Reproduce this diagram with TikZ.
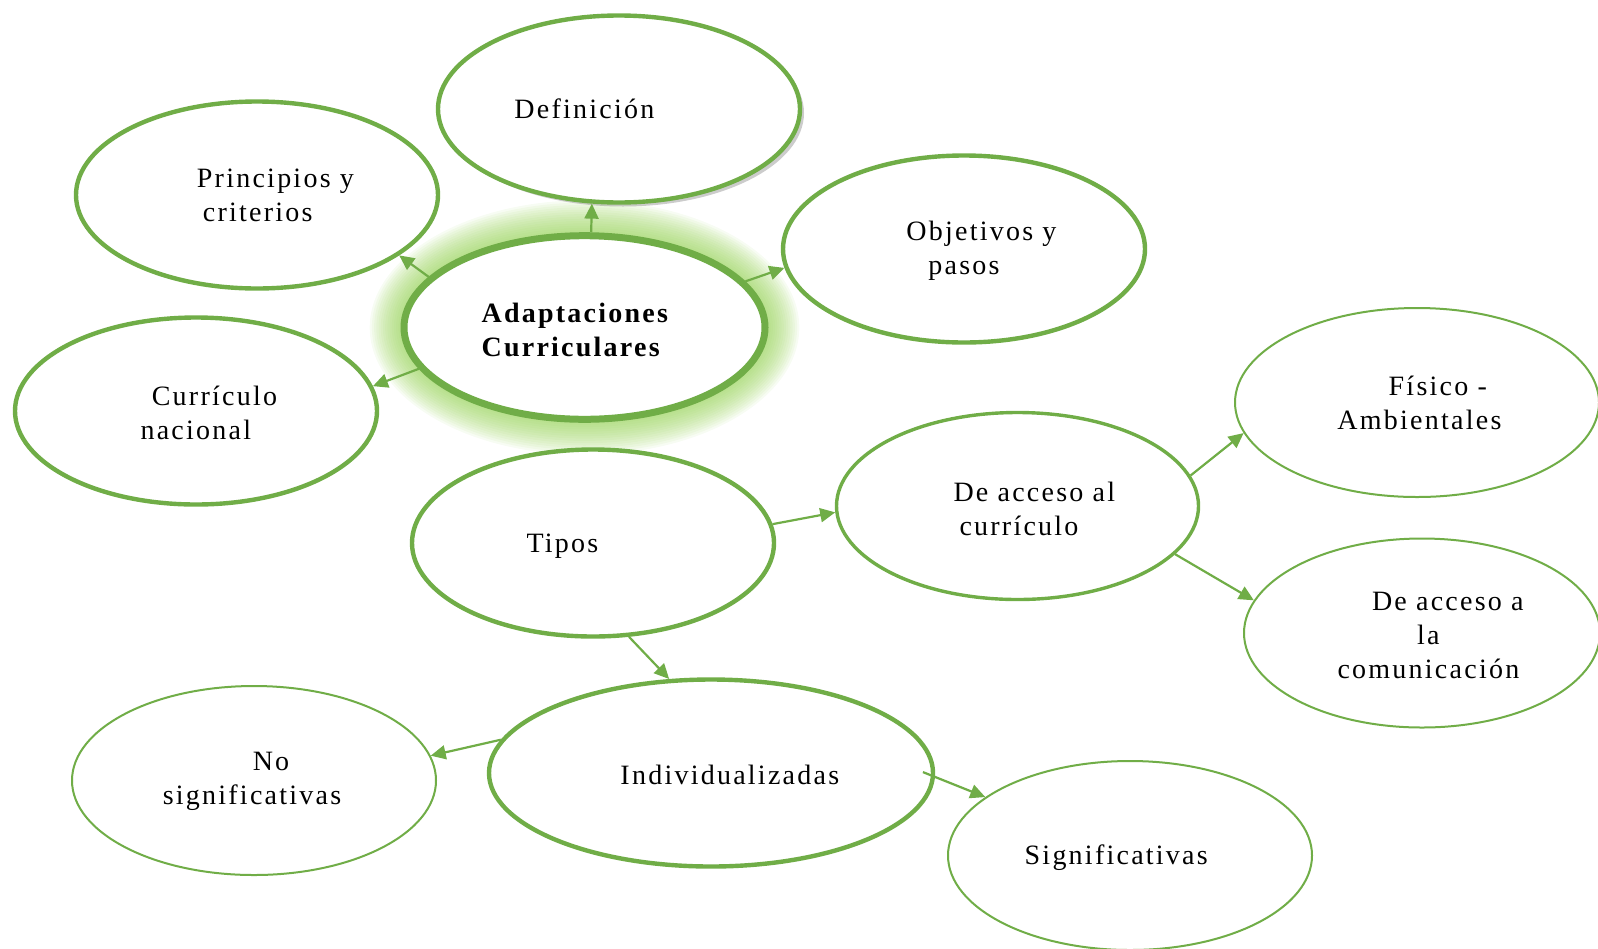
\documentclass[tikz,border=0pt]{standalone}
\usepackage{fontspec}
\setmainfont{Liberation Serif}[LetterSpace=8]
\usetikzlibrary{shapes.geometric,arrows.meta,shadows}
\definecolor{leaf}{RGB}{112,173,71}
\definecolor{glow}{RGB}{146,208,80}

\tikzset{x=0.5pt, y=-0.5pt, node font=\fontsize{14}{17}\selectfont,
  bub/.style={ellipse, draw=leaf, fill=white, inner sep=0pt,
    minimum width=181pt, minimum height=93.5pt},
  thick bub/.style={bub, line width=2.2pt},
  mid bub/.style={bub, line width=1.7pt},
  thin bub/.style={bub, line width=1pt, minimum width=182pt, minimum height=94.5pt},
  txt/.style={align=center},
  pil/.style={draw=leaf, line width=1.1pt, -{Triangle[length=7.5pt,width=7pt]}}}

\begin{document}
\begin{tikzpicture}
  \useasboundingbox (0,0) rectangle (1598,948);
  % soft glow round the centre
  \foreach \g in {1,...,14}
    \fill [glow, opacity=0.07] (584.5,327.5)
      ellipse [x radius=92pt+\g*1.1pt, y radius=47.5pt+\g*1.15pt];

  \node [bub, line width=3.5pt, minimum width=180.5pt, minimum height=91.8pt,
    label={[align=left, xshift=-4.3pt, yshift=-1.3pt]center:\textbf{Adaptaciones}\\\textbf{Curriculares}}]
    (adapt) at (584.5,327.5) {};
  \node [thick bub, drop shadow={shadow xshift=2pt, shadow yshift=-2pt, opacity=0.4},
    label={[txt, xshift=-17.3pt]center:Definición}] (def) at (619,109) {};
  \node [thick bub, label={[align=left, xshift=9.2pt]center:Principios y\\\hspace*{3pt}criterios}] (princ) at (257,195) {};
  \node [thick bub, label={[align=left, xshift=8.7pt, yshift=-1pt]center:Objetivos y\\\hspace*{11pt}pasos}] (obj) at (964,249) {};
  \node [thick bub, label={[align=left, xshift=6.4pt, yshift=-0.7pt]center:\hspace*{5.6pt}Currículo\\nacional}] (curr) at (196,411) {};
  \node [thick bub, label={[txt, xshift=-15.3pt, yshift=-1.5pt]center:Tipos}] (tipos) at (593,543) {};
  \node [mid bub, label={[align=left, xshift=8.4pt, yshift=-1.3pt]center:De acceso al\\\hspace*{3pt}currículo}] (acceso) at (1017.5,506) {};
  \node [thin bub, label={[txt, xshift=1.2pt]center:\hspace*{18.4pt}Físico -\\Ambientales}] (fisico) at (1417,402.5) {};
  \node [thin bub, minimum width=178pt, label={[txt, xshift=3.2pt, yshift=-1pt]center:\hspace*{19.4pt}De acceso a\\la\\comunicación}] (comun) at (1422,633) {};
  \node [thick bub, minimum width=222pt, label={[txt, xshift=9.4pt, yshift=-1pt]center:Individualizadas}] (indiv) at (711,773) {};
  \node [thin bub, label={[txt, xshift=-1pt, yshift=-0.5pt]center:\hspace*{19pt}No\\significativas}] (nosig) at (254,780.5) {};
  \node [thin bub, label={[txt, xshift=-6.9pt, yshift=-1pt]center:Significativas}] (sig) at (1130,855.5) {};

  \draw [pil] (adapt.86) -- (def.-106);
  \draw [pil] (adapt.162) -- (princ.-23);
  \draw [pil] (adapt.16) -- (obj.186);
  \draw [pil] (adapt.194) -- (curr.8);
  \draw [pil] (tipos.6) -- (acceso.182);
  \draw [pil] (tipos.-69) -- (indiv.114);
  \draw [pil] (indiv.171) -- (nosig.8);
  \draw [pil, shorten <=-6.5pt] (indiv.-1) -- (sig.158);
  \draw [pil] (acceso.10) -- (fisico.190);
  \draw [pil] (acceso.-17) -- (comun.169);
\end{tikzpicture}
\end{document}
